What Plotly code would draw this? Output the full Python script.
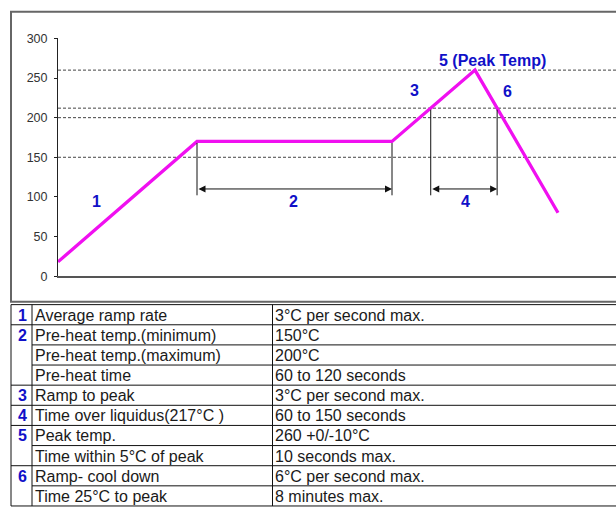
import numpy as np
import plotly.graph_objects as go

# ---------------- data ----------------
time = [0, 139, 334, 417, 500]          # arbitrary time units along the profile
temp = [18, 170, 170, 260, 80]          # temperature (°C)
dashed_levels = [150, 200, 212, 260]    # reference levels
liquidus = 212
y_ticks = [0, 50, 100, 150, 200, 250, 300]

phase_labels = ["1", "2", "3", "4", "5 (Peak Temp)", "6"]
phase_label_pos = [(38, 94), (235, 94), (356, 234), (407, 94), (434, 272), (449, 233)]

row_numbers = ["1", "2", "", "", "3", "4", "5", "", "6", ""]
row_params = ["Average ramp rate", "Pre-heat temp.(minimum)", "Pre-heat temp.(maximum)",
              "Pre-heat time", "Ramp to peak", "Time over liquidus(217°C )", "Peak temp.",
              "Time within 5°C of peak", "Ramp- cool down", "Time 25°C to peak"]
row_values = ["3°C per second max.", "150°C", "200°C", "60 to 120 seconds",
              "3°C per second max.", "60 to 150 seconds", "260 +0/-10°C",
              "10 seconds max.", "6°C per second max.", "8 minutes max."]

# ---------------- figure ----------------
W, H = 616, 512
X_MAX = 558


def px(x):
    return x / W


def py(y):
    return 1 - y / H


fig = go.Figure()
fig.add_trace(go.Scatter(x=time, y=temp, mode="lines",
                         line=dict(color="#f010f0", width=3.3), hoverinfo="skip",
                         showlegend=False))

shapes = []
annotations = []

# dashed reference lines
for lv in dashed_levels:
    shapes.append(dict(type="line", xref="x", yref="y", x0=0, x1=X_MAX, y0=lv, y1=lv,
                       line=dict(color="#444", width=1, dash="3px,2px"), layer="below"))

# guide verticals: plateau start/end and liquidus crossings
t = np.array(time, float)
T = np.array(temp, float)
rise_x = float(np.interp(liquidus, T[2:4], t[2:4]))
fall_x = float(np.interp(liquidus, T[3:5][::-1], t[3:5][::-1]))
guides = [(time[1], temp[1]), (time[2], temp[2]), (rise_x, liquidus), (fall_x, liquidus)]
GUIDE_BOTTOM = 102
ARROW_Y = 110
for gx, gy in guides:
    shapes.append(dict(type="line", xref="x", yref="y", x0=gx, x1=gx, y0=gy - 2,
                       y1=GUIDE_BOTTOM, line=dict(color="#111", width=1)))

for (a, _), (b, _) in [(guides[0], guides[1]), (guides[2], guides[3])]:
    annotations.append(dict(x=b, y=ARROW_Y, ax=a, ay=ARROW_Y, xref="x", yref="y",
                            axref="x", ayref="y", showarrow=True, arrowside="end+start",
                            arrowhead=2, arrowsize=1.4, arrowwidth=1, arrowcolor="#111",
                            text=""))

for lab, (lx, ly) in zip(phase_labels, phase_label_pos):
    annotations.append(dict(x=lx, y=ly, xref="x", yref="y", text=f"<b>{lab}</b>",
                            showarrow=False, font=dict(size=16, color="#1010c8",
                                                       family="Liberation Sans, Arial")))

# chart frame box
shapes.append(dict(type="rect", xref="paper", yref="paper", x0=px(11), x1=px(W + 5),
                   y0=py(303), y1=py(5), line=dict(color="#666", width=2)))

# ---------------- table ----------------
TOP = 306
RH = 20.7
COL0, COL1, COL2, COLR = 11, 32, 272.5, W + 5
n = len(row_params)
bottom = TOP + RH * n
line_style = dict(color="#111", width=1)
# verticals
for cx in [COL0, COL1, COL2]:
    shapes.append(dict(type="line", xref="paper", yref="paper", x0=px(cx), x1=px(cx),
                       y0=py(TOP), y1=py(bottom), line=line_style))
# horizontals
for i in range(n + 1):
    yy = TOP + RH * i
    group_edge = i == 0 or i == n or row_numbers[i] != ""
    x_start = COL0 if group_edge else COL1
    shapes.append(dict(type="line", xref="paper", yref="paper", x0=px(x_start), x1=px(COLR),
                       y0=py(yy), y1=py(yy), line=line_style))

tfont = dict(size=16, color="#1a1a1a", family="Liberation Sans, Arial")
for i in range(n):
    yc = py(TOP + RH * (i + 0.5) + 0.5)
    if row_numbers[i]:
        annotations.append(dict(x=px(28.5), y=yc, xref="paper", yref="paper",
                                text=f"<b>{row_numbers[i]}</b>", showarrow=False,
                                xanchor="right", yanchor="middle",
                                font=dict(size=16, color="#1010c8",
                                          family="Liberation Sans, Arial")))
    annotations.append(dict(x=px(32.5), y=yc, xref="paper", yref="paper", text=row_params[i],
                            showarrow=False, xanchor="left", yanchor="middle", font=tfont))
    annotations.append(dict(x=px(272.5), y=yc, xref="paper", yref="paper", text=row_values[i],
                            showarrow=False, xanchor="left", yanchor="middle", font=tfont))

fig.update_layout(
    width=W, height=H,
    margin=dict(l=0, r=0, t=0, b=0),
    paper_bgcolor="white", plot_bgcolor="white",
    shapes=shapes, annotations=annotations,
    xaxis=dict(domain=[px(58), 1], range=[0, X_MAX], showgrid=False, zeroline=False,
               showticklabels=False, ticks="", showline=True, linecolor="#555", linewidth=1.5),
    yaxis=dict(domain=[py(276.7), py(32.3)], range=[0, 300], tickvals=y_ticks,
               showgrid=False, zeroline=False, showline=True, linecolor="#222", linewidth=1,
               ticks="outside", ticklen=3, tickcolor="#222", ticklabelstandoff=4,
               tickfont=dict(size=12.5, color="#333", family="Liberation Sans, Arial")),
    showlegend=False,
)

fig.write_html("out.html", config={"displayModeBar": False},
               post_script="document.body.style.margin='0';"
                           "document.body.style.overflow='hidden';")
